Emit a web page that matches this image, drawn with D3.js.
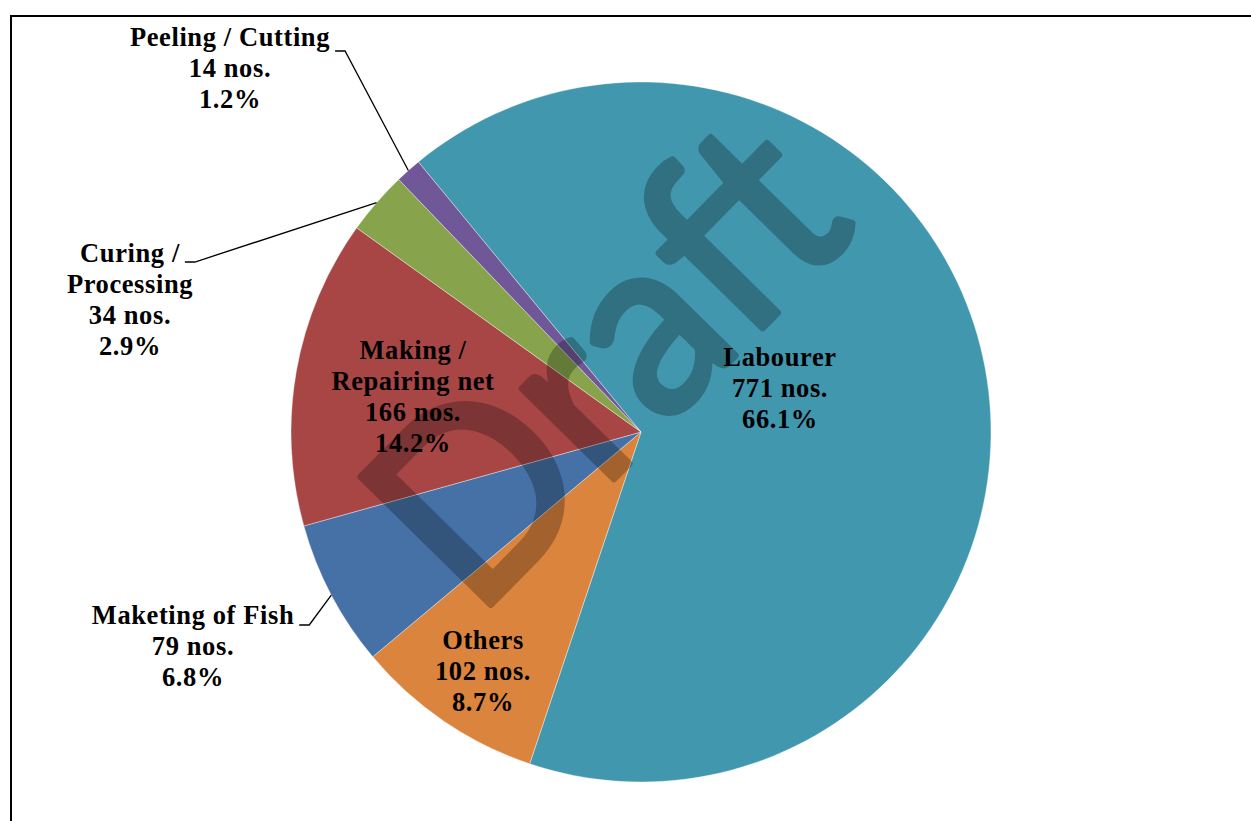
<!DOCTYPE html>
<html>
<head>
<meta charset="utf-8">
<script src="https://cdn.jsdelivr.net/npm/d3@7"></script>
<style>
  html, body { margin: 0; padding: 0; background: #ffffff; }
  svg { display: block; }
  .lbl { font-family: "Liberation Serif", "Times New Roman", serif; font-weight: bold; font-size: 26.5px; letter-spacing: 0.6px; fill: #000; }
</style>
</head>
<body>
<svg id="chart" width="1251" height="821"></svg>
<script>
// Fishery-related occupations: number of persons
const categories = ["Labourer", "Others", "Maketing of Fish", "Making / Repairing net", "Curing / Processing", "Peeling / Cutting"];
const counts = [771, 102, 79, 166, 34, 14];
const percentLabels = ["66.1%", "8.7%", "6.8%", "14.2%", "2.9%", "1.2%"];
const sliceColors = ["#4197AE", "#DB843D", "#4571A6", "#A84646", "#87A44C", "#705898"];

// Label text lines (category name split as printed)
const nameLines = [
  ["Labourer"],
  ["Others"],
  ["Maketing of Fish"],
  ["Making /", "Repairing net"],
  ["Curing /", "Processing"],
  ["Peeling / Cutting"]
];

// Label placement: centre x, first-line centre y, and whether a leader line is drawn
const labelLayout = [
  { x: 780, y: 357, leader: false },
  { x: 483, y: 640, leader: false },
  { x: 193, y: 615, leader: true, stubDy: 10 },
  { x: 413, y: 350, leader: false },
  { x: 130, y: 253, leader: true, stubDy: 9 },
  { x: 230, y: 37,  leader: true, stubDy: 14 }
];

const W = 1251, H = 821;
const cx = 641, cy = 432, R = 350;
const lineH = 31;
const startDeg = -39.5;

const svg = d3.select("#chart");

// Frame
svg.append("rect")
  .attr("x", 11).attr("y", 16)
  .attr("width", W + 50).attr("height", H + 50)
  .attr("fill", "#fff").attr("stroke", "#000").attr("stroke-width", 2);

const data = categories.map((c, i) => ({ name: c, value: counts[i], pct: percentLabels[i], color: sliceColors[i], lines: nameLines[i], layout: labelLayout[i] }));

const start = startDeg * Math.PI / 180;
const pie = d3.pie().value(d => d.value).sort(null).startAngle(start).endAngle(start + 2 * Math.PI);
const arcs = pie(data);
const arc = d3.arc().innerRadius(0).outerRadius(R);
const rim = d3.arc().innerRadius(R).outerRadius(R);

const g = svg.append("g").attr("transform", `translate(${cx},${cy})`);

g.selectAll("path.slice")
  .data(arcs)
  .join("path")
  .attr("class", "slice")
  .attr("d", arc)
  .attr("fill", d => d.data.color)
  .attr("stroke", "#ffffff")
  .attr("stroke-opacity", 0.5)
  .attr("stroke-width", 0.75);

// Watermark (group opacity so the thickening stroke does not double up)
const wmG = svg.append("g").attr("opacity", 0.25);
const wm = wmG.append("text")
  .attr("font-family", "Lato, 'Open Sans', sans-serif")
  .attr("font-size", 254)
  .attr("text-anchor", "middle")
  .attr("fill", "#000")
  .attr("stroke", "#000")
  .attr("stroke-width", 7)
  .attr("stroke-linejoin", "round")
  .text("Draft");
const wmLen = wm.node().getComputedTextLength();
const targetLen = 550;
wm.attr("transform", `translate(668,424) rotate(-45.5) scale(${targetLen / wmLen},1)`);

// Labels
const labels = svg.append("g");
arcs.forEach(a => {
  const d = a.data;
  const L = d.layout;
  const lines = d.lines.concat([`${d3.format(",")(d.value)} nos.`, d.pct]);
  const t = labels.append("text").attr("class", "lbl").attr("text-anchor", "middle");
  lines.forEach((s, k) => {
    t.append("tspan").attr("x", L.x).attr("y", L.y + 9 + k * lineH).text(s);
  });
  if (L.leader) {
    // start the stub just after the first line
    const first = t.select("tspan").node();
    const w = first.getComputedTextLength();
    const x0 = L.x + w / 2 + 5;
    const y0 = L.y + L.stubDy;
    const p = rim.centroid(a);
    labels.append("path")
      .attr("d", d3.line()([[x0, y0], [x0 + 10, y0], [cx + p[0], cy + p[1]]]))
      .attr("fill", "none").attr("stroke", "#000").attr("stroke-width", 1.3);
  }
});
</script>
</body>
</html>
